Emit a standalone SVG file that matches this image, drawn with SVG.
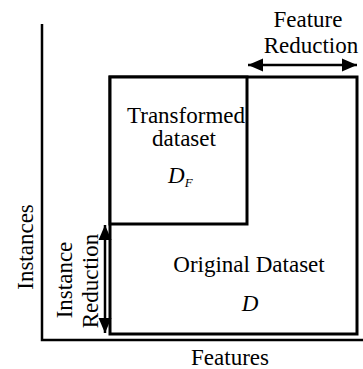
<svg xmlns="http://www.w3.org/2000/svg" width="363" height="369" viewBox="0 0 363 369" font-family="Liberation Serif">
<style>
text{font-size:23px;fill:#000}
.box{fill:#fff;stroke:#000;stroke-width:3}
.axis{fill:none;stroke:#000;stroke-width:2.5}
.arr{fill:none;stroke:#000;stroke-width:2.5;marker-start:url(#ah);marker-end:url(#ah)}
.it{font-style:italic}
</style>
<defs>
<marker id="ah" markerUnits="userSpaceOnUse" markerWidth="16" markerHeight="14" refX="15" refY="7" orient="auto-start-reverse">
<path d="M0,0.5 L15,7 L0,13.5 z" fill="#000"/>
</marker>
</defs>
<g id="axes">
<path class="axis" d="M42,24 V340 H363"/>
<text x="33" y="247" text-anchor="middle" transform="rotate(-90 33 247)">Instances</text>
<text x="230" y="365" text-anchor="middle">Features</text>
</g>
<g id="original">
<rect class="box" x="110" y="77" width="247" height="257"/>
<text x="249" y="272" text-anchor="middle">Original Dataset</text>
<text class="it" x="250" y="311" text-anchor="middle">D</text>
</g>
<g id="transformed">
<rect class="box" x="110" y="77" width="137" height="147"/>
<text x="186" y="123" text-anchor="middle">Transformed</text>
<text x="184" y="146" text-anchor="middle">dataset</text>
<text class="it" x="168" y="183">D<tspan font-size="13" dy="4">F</tspan></text>
</g>
<g id="connectors">
<line class="arr" x1="248" y1="65" x2="357" y2="65"/>
<line class="arr" x1="105" y1="225" x2="105" y2="333"/>
</g>
<g id="labels">
<text x="308" y="27" text-anchor="middle">Feature</text>
<text x="311" y="53" text-anchor="middle">Reduction</text>
<text x="72" y="280" text-anchor="middle" transform="rotate(-90 72 280)">Instance</text>
<text x="98" y="281" text-anchor="middle" transform="rotate(-90 98 281)">Reduction</text>
</g>
</svg>
